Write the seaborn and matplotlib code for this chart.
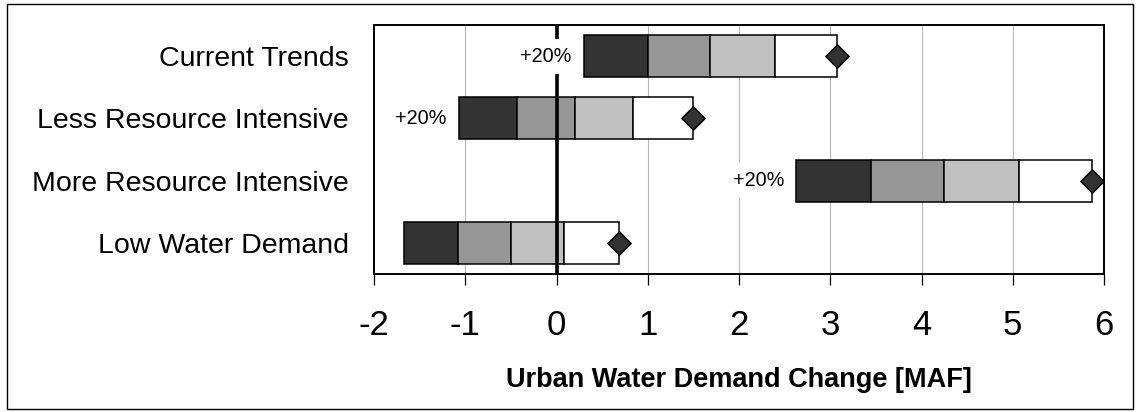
import matplotlib
matplotlib.use("Agg")
import matplotlib.pyplot as plt
import matplotlib.patches as mpatches
import numpy as np
import seaborn as sns

# ---- data ----
categories = ["Current Trends", "Less Resource Intensive",
              "More Resource Intensive", "Low Water Demand"]
starts = [0.30, -1.07, 2.63, -1.67]
seg1_end = [1.00, -0.43, 3.45, -1.08]
seg2_end = [1.68, 0.20, 4.25, -0.50]
seg3_end = [2.39, 0.84, 5.07, 0.08]
seg4_end = [3.07, 1.50, 5.87, 0.69]   # diamond markers
bar_labels = ["+20%", "+20%", "+20%", ""]
xticks = [-2, -1, 0, 1, 2, 3, 4, 5, 6]
xlabel = "Urban Water Demand Change [MAF]"

seg_colors = ["#333333", "#969696", "#c0c0c0", "#ffffff"]

sns.set_theme(style="white")
plt.rcParams["font.family"] = ["Liberation Sans", "DejaVu Sans"]

fig = plt.figure(figsize=(11.38, 4.12), dpi=100)
ax = fig.add_axes([374 / 1138, 1 - 274 / 412, (1104 - 374) / 1138, (274 - 25) / 412])

bounds = [starts, seg1_end, seg2_end, seg3_end, seg4_end]
for k in range(4):
    left = np.array(bounds[k])
    right = np.array(bounds[k + 1])
    sns.barplot(x=right - left, y=categories, order=categories, orient="y",
                left=left, color=seg_colors[k], saturation=1, width=0.675,
                edgecolor="black", linewidth=1.1, errorbar=None, ax=ax, zorder=3)

sns.scatterplot(x=seg4_end, y=categories, marker="D", s=140, color="#333333",
                edgecolor="black", linewidth=1.1, ax=ax, zorder=5, legend=False)

for i, lab in enumerate(bar_labels):
    if lab:
        ax.annotate(lab, xy=(starts[i], i), xytext=(-9, 0), textcoords="offset points",
                    ha="right", va="center", fontsize=14.3, color="black",
                    bbox=dict(boxstyle="square,pad=0.4", fc="white", ec="none"),
                    zorder=6)

ax.axvline(0, color="black", lw=2.6, zorder=4)

ax.set_xlim(-2, 6)
ax.set_ylim(3.5, -0.5)
ax.set_xticks(xticks)
ax.set_xticklabels([str(t) for t in xticks])
ax.xaxis.grid(True, color="#b8b8b8", lw=0.8, zorder=0)
ax.yaxis.grid(False)
ax.set_axisbelow(True)
for s in ax.spines.values():
    s.set_visible(True)
    s.set_color("black")
    s.set_linewidth(1.4)

ax.tick_params(axis="x", direction="out", length=8, width=0.9, color="black",
               labelsize=25, pad=17, bottom=True)
ax.tick_params(axis="y", length=0, labelsize=20.5, pad=18)
for t in ax.get_yticklabels():
    t.set_color("black")
for t in ax.get_xticklabels():
    t.set_color("black")
ax.set_ylabel("")
ax.set_xlabel(xlabel, fontsize=19.5, fontweight="bold", color="black", labelpad=18)

fig.patches.append(mpatches.Rectangle((7 / 1138, 1 - 409 / 412), (1133 - 7) / 1138,
                                      (409 - 4) / 412, transform=fig.transFigure,
                                      fill=False, ec="black", lw=1))

fig.savefig("out.png", dpi=100)
